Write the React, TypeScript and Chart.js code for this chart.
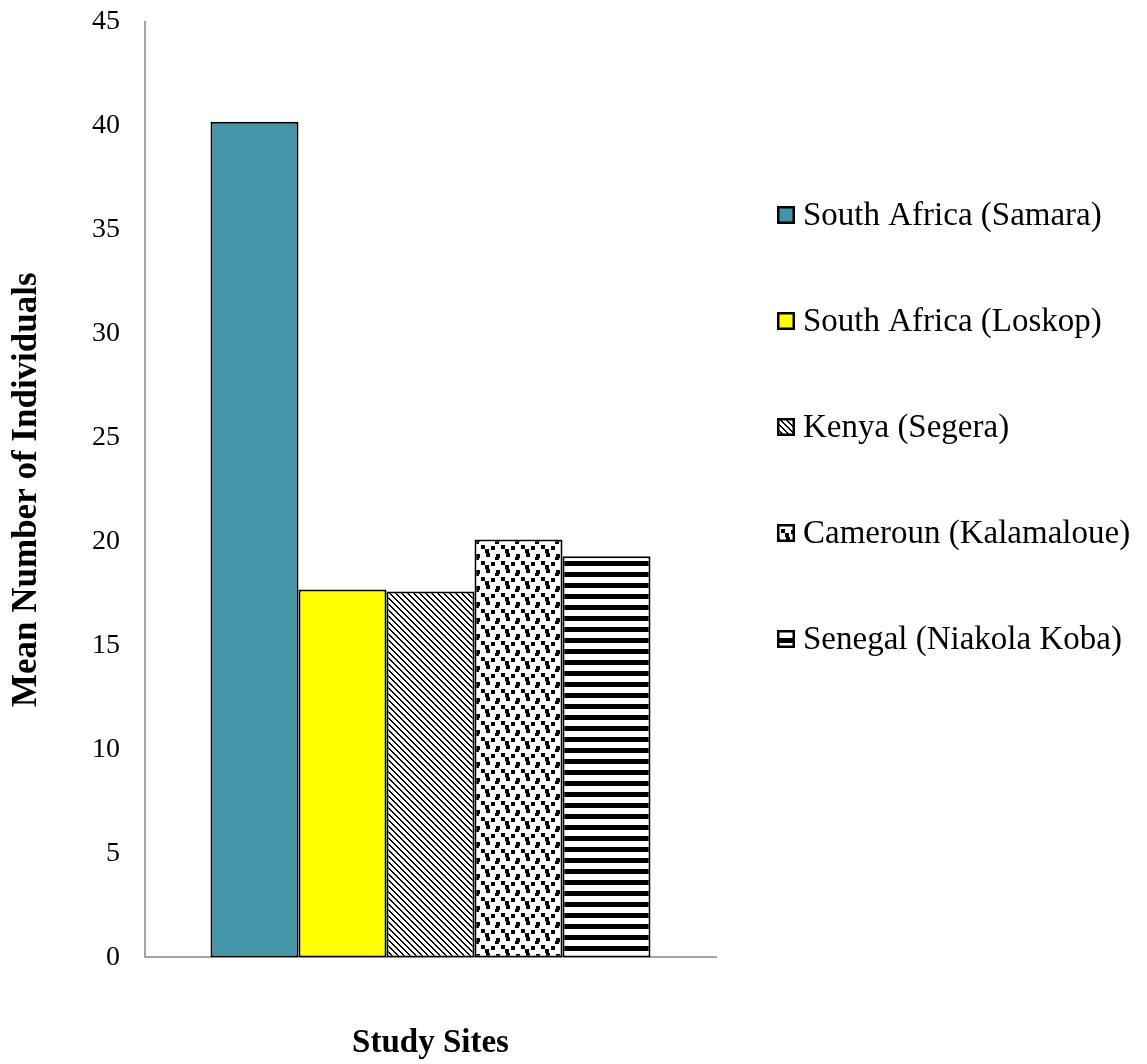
import React, { useEffect, useRef } from 'react';
import { Chart, registerables } from 'chart.js';

Chart.register(...registerables);

// ---- data ----
const categories = [''];
const seriesLabels = [
  'South Africa (Samara)',
  'South Africa (Loskop)',
  'Kenya (Segera)',
  'Cameroun (Kalamaloue)',
  'Senegal (Niakola Koba)',
];
const samara = [40.2];
const loskop = [17.7];
const segera = [17.6];
const kalamaloue = [20.1];
const niakolaKoba = [19.3];
const yMin = 0;
const yMax = 45;
const yStep = 5;
const yTitle = 'Mean Number of Individuals';
const xTitle = 'Study Sites';

// ---- styles ----
const SERIF = '"Liberation Serif", "Times New Roman", serif';
const TEAL = '#4595A8';
const YELLOW = '#FFFF00';
const AXIS_GRAY = '#a3a3a3';

function tile(w: number, h: number, draw: (c: CanvasRenderingContext2D) => void): CanvasPattern {
  const cv = document.createElement('canvas');
  cv.width = w;
  cv.height = h;
  const c = cv.getContext('2d')!;
  c.fillStyle = '#ffffff';
  c.fillRect(0, 0, w, h);
  c.fillStyle = '#000000';
  draw(c);
  const ctx = document.createElement('canvas').getContext('2d')!;
  return ctx.createPattern(cv, 'repeat')!;
}

function diagonalPattern() {
  return tile(6, 6, (c) => {
    for (let y = 0; y < 6; y++) {
      for (let x = 0; x < 6; x++) {
        const d = (((x - y) % 6) + 6) % 6;
        if (d === 0 || d === 1) c.fillRect(x, y, 1, 1);
      }
    }
  });
}

function confettiPattern() {
  const spots = [
    [1, 1], [11, 2], [6, 9], [16, 10], [5, 5], [15, 13],
  ];
  return tile(20, 16, (c) => {
    spots.forEach(([x, y]) => {
      c.fillRect(x, y, 4, 4);
    });
  });
}

function stripePattern() {
  return tile(4, 11, (c) => {
    c.fillRect(0, 0, 4, 5);
  });
}

const legendPlugin = {
  id: 'sideLegend',
  afterDraw(chart: any) {
    const ctx = chart.ctx as CanvasRenderingContext2D;
    const x0 = 777;
    const firstY = 215;
    const step = 106;
    const box = 18;
    ctx.save();
    ctx.font = '33px ' + SERIF;
    ctx.textBaseline = 'middle';
    ctx.textAlign = 'left';
    chart.data.datasets.forEach((ds: any, i: number) => {
      const cy = firstY + i * step;
      ctx.fillStyle = ds.backgroundColor;
      ctx.fillRect(x0, cy - box / 2, box, box);
      ctx.lineWidth = 2.5;
      ctx.strokeStyle = '#000';
      ctx.strokeRect(x0 + 1.25, cy - box / 2 + 1.25, box - 2.5, box - 2.5);
      ctx.fillStyle = '#000';
      ctx.fillText(ds.label, x0 + 26, cy + 1);
    });
    ctx.restore();
  },
};

export default function App() {
  const ref = useRef<HTMLCanvasElement>(null);

  useEffect(() => {
    if (!ref.current) return;
    const fills = [TEAL, YELLOW, diagonalPattern(), confettiPattern(), stripePattern()];
    const values = [samara, loskop, segera, kalamaloue, niakolaKoba];
    const chart = new Chart(ref.current, {
      type: 'bar',
      data: {
        labels: categories,
        datasets: values.map((v, i) => ({
          label: seriesLabels[i],
          data: v,
          backgroundColor: fills[i] as any,
          borderColor: '#000000',
          borderWidth: 2,
          borderSkipped: false,
          categoryPercentage: 0.7706,
          barPercentage: 1.0,
        })),
      },
      options: {
        animation: false,
        responsive: true,
        maintainAspectRatio: false,
        events: [],
        layout: { padding: { top: 5, right: 431, bottom: 0, left: 0 } },
        plugins: {
          legend: { display: false },
          tooltip: { enabled: false },
        },
        scales: {
          x: {
            grid: { display: false, drawTicks: false },
            ticks: { display: false },
            border: { display: true, color: AXIS_GRAY, width: 2 },
            title: {
              display: true,
              text: xTitle,
              color: '#000',
              font: { family: SERIF, size: 33, weight: 'bold', lineHeight: 1.2 },
              padding: { top: 66, bottom: 1 },
            },
          },
          y: {
            min: yMin,
            max: yMax,
            grid: { display: false, drawTicks: true, tickLength: 17 },
            border: { display: true, color: AXIS_GRAY, width: 2 },
            ticks: {
              stepSize: yStep,
              color: '#000',
              padding: 8,
              font: { family: SERIF, size: 28, lineHeight: 1 },
            },
            title: {
              display: true,
              text: yTitle,
              color: '#000',
              font: { family: SERIF, size: 35, weight: 'bold', lineHeight: 1.2 },
              padding: { top: 6, bottom: 36 },
            },
          },
        },
      },
      plugins: [legendPlugin],
    });
    return () => chart.destroy();
  }, []);

  return (
    <div style={{ position: 'absolute', left: 0, top: 0, width: 1147, height: 1064, background: '#fff' }}>
      <canvas ref={ref} />
    </div>
  );
}
